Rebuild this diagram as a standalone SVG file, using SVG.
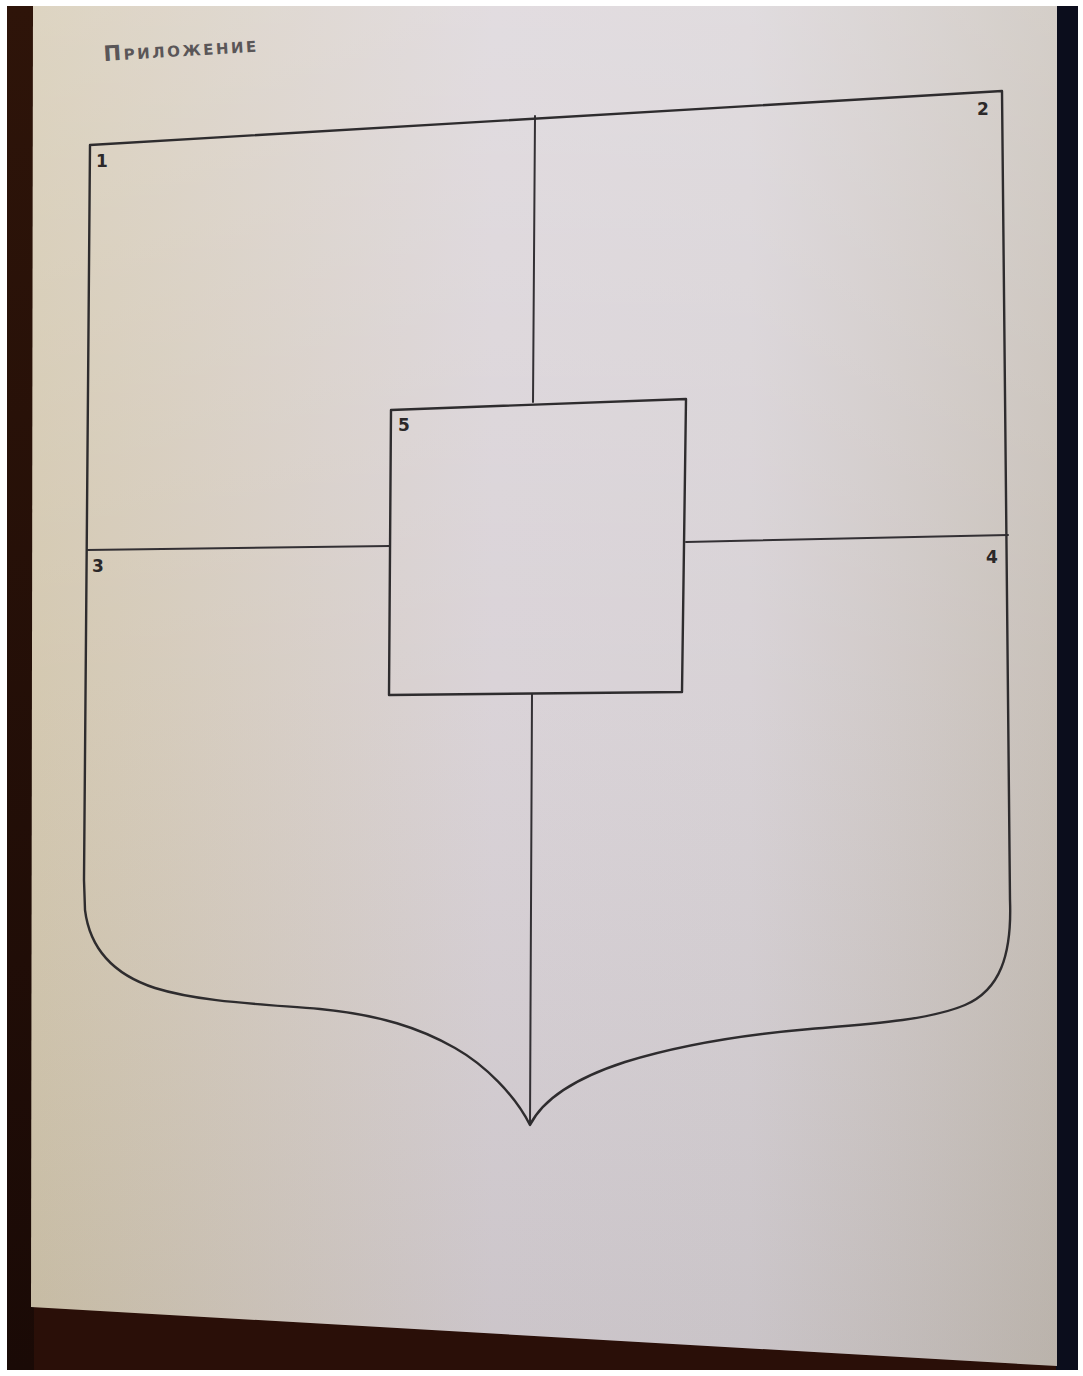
<svg xmlns="http://www.w3.org/2000/svg" width="1083" height="1376" viewBox="0 0 1083 1376">
<style>
.ln{fill:none;stroke:#2e2c2e;stroke-width:2.4;stroke-linecap:round;stroke-linejoin:round}
.thin{fill:none;stroke:#333034;stroke-width:2;stroke-linecap:round}
.num{font-family:"DejaVu Sans","Liberation Sans",sans-serif;font-weight:bold;font-size:17px;fill:#2b2829}
.title{font-family:"DejaVu Sans","Liberation Sans",sans-serif;font-weight:bold;font-size:21px;fill:#5a5658;font-variant:small-caps;letter-spacing:2.5px}
</style>
<defs>
<linearGradient id="paper" x1="0" y1="0" x2="1" y2="0">
<stop offset="0" stop-color="#d2c6ad"/>
<stop offset="0.45" stop-color="#d8d1d6"/>
<stop offset="0.7" stop-color="#d6d0d4"/>
<stop offset="1" stop-color="#c6beb6"/>
</linearGradient>
<linearGradient id="shade" x1="0" y1="0" x2="0" y2="1">
<stop offset="0" stop-color="#ffffff" stop-opacity="0.25"/>
<stop offset="0.5" stop-color="#ffffff" stop-opacity="0.05"/>
<stop offset="1" stop-color="#000000" stop-opacity="0.06"/>
</linearGradient>
<linearGradient id="leftstrip" x1="0" y1="0" x2="0" y2="1">
<stop offset="0" stop-color="#2e1409"/>
<stop offset="1" stop-color="#1a0a06"/>
</linearGradient>
</defs>
<rect x="0" y="0" width="1083" height="1376" fill="#ffffff"/>
<g id="background">
<rect x="7" y="6" width="1071" height="1364" fill="#2a0f08"/>
<rect x="7" y="6" width="27" height="1364" fill="url(#leftstrip)"/>
<rect x="1056" y="6" width="22" height="1364" fill="#0b0d1c"/>
<polygon points="33,6 1057,6 1057,1366 31,1307" fill="url(#paper)"/>
<polygon points="33,6 1057,6 1057,1366 31,1307" fill="url(#shade)"/>
</g>
<text class="title" x="104" y="61" transform="rotate(-3.5 104 61)">Приложение</text>
<g id="connectors">
<line class="thin" x1="535" y1="116" x2="533" y2="402"/>
<line class="thin" x1="532" y1="694" x2="530" y2="1124"/>
<line class="thin" x1="87" y1="550" x2="390" y2="546"/>
<line class="thin" x1="686" y1="542" x2="1008" y2="535"/>
</g>
<g id="shield">
<path class="ln" d="M90,145 L1002,91 L1010,900 C1012,955 1000,990 965,1005 C930,1020 870,1024 810,1029 C740,1035 680,1045 625,1062 C585,1075 545,1095 530,1125 C515,1095 485,1065 455,1048 C420,1028 380,1015 320,1009 C260,1004 200,1002 155,988 C115,975 90,950 85,910 L84,880 Z"/>
</g>
<g id="node-5">
<polygon class="ln" points="391,410 686,399 682,692 389,695"/>
<text class="num" x="398" y="431">5</text>
</g>
<g id="node-1"><text class="num" x="96" y="167">1</text></g>
<g id="node-2"><text class="num" x="977" y="115">2</text></g>
<g id="node-3"><text class="num" x="92" y="572">3</text></g>
<g id="node-4"><text class="num" x="986" y="563">4</text></g>
</svg>
